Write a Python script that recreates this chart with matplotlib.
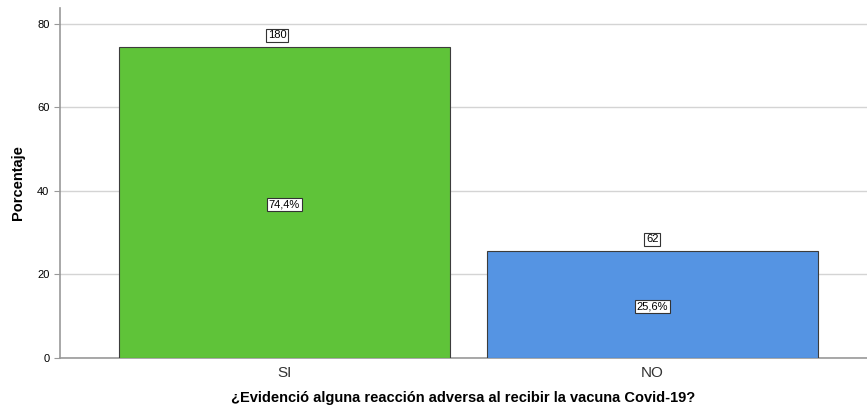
import matplotlib
matplotlib.use("Agg")
import matplotlib.pyplot as plt

# Datos
categorias = ["SI", "NO"]
porcentajes = [74.4, 25.6]
conteos = [180, 62]
etiquetas_pct = ["74,4%", "25,6%"]
colores = ["#5fc339", "#5594e3"]

plt.rcParams['font.family'] = ['Liberation Sans', 'DejaVu Sans']

fig = plt.figure(figsize=(8.67, 4.12), dpi=100)
ax = fig.add_axes([0.069, 0.131, 0.931, 0.85])

x = list(range(len(categorias)))
ax.bar(x, porcentajes, width=0.9, color=colores, edgecolor="#3c3c3c", linewidth=0.8, zorder=3)

caja = dict(boxstyle="square,pad=0.15", facecolor="white", edgecolor="#333333", linewidth=0.8)
for xi, p, n, lab in zip(x, porcentajes, conteos, etiquetas_pct):
    ax.text(xi - 0.02 if n > 100 else xi, p + 2.8, str(n), ha="center", va="center",
            fontsize=8, bbox=caja, zorder=4)
    ax.text(xi, p / 2 - 0.4, lab, ha="center", va="center", fontsize=8, bbox=caja, zorder=4)

ax.set_xlim(-0.61, 1.583)
ax.set_ylim(0, 83.8)
ax.set_yticks([0, 20, 40, 60, 80])
ax.set_xticks(x)
ax.set_xticklabels(categorias, fontsize=11, color="#333333")
ax.tick_params(axis="y", labelsize=8, length=4, color="#999999")
ax.tick_params(axis="x", length=0, pad=6)
ax.grid(axis="y", color="#d4d4d4", linewidth=1, zorder=0)

for s in ["top", "right"]:
    ax.spines[s].set_visible(False)
ax.spines["left"].set_color("#999999")
ax.spines["bottom"].set_color("#999999")
ax.spines["left"].set_linewidth(1.2)
ax.spines["bottom"].set_linewidth(1.2)

ax.set_ylabel("Porcentaje", fontsize=10.5, fontweight="bold")
ax.yaxis.set_label_coords(-0.052, 0.5)
ax.set_xlabel("¿Evidenció alguna reacción adversa al recibir la vacuna Covid-19?",
              fontsize=10.5, fontweight="bold")
ax.xaxis.set_label_coords(0.5, -0.114)
ax.xaxis.label.set_va("center")
ax.yaxis.label.set_va("center")

fig.savefig("out.png", dpi=100)
